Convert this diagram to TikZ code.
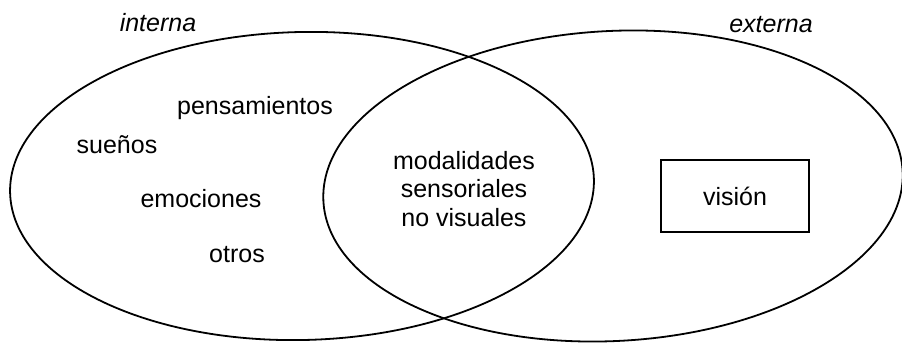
\documentclass[tikz,border=0pt]{standalone}
\usepackage{fontspec}
\setmainfont{Liberation Sans}
\begin{document}
\begin{tikzpicture}[x=1pt,y=-1pt,
  lbl/.style={inner sep=0pt, font=\fontsize{25}{28.5}\selectfont, anchor=base},
  ring/.style={draw=black, line width=1.8pt},
  vbox/.style={draw=black, line width=2.2pt, minimum width=148pt, minimum height=72pt, inner sep=0pt, font=\fontsize{25}{28.5}\selectfont}]
\useasboundingbox[fill=white] (0,0) rectangle (902,345);
% the two overlapping ellipses
\draw[ring, rotate around={1.3:(302,186)}] (302,186) ellipse [x radius=292pt, y radius=154pt];
\draw[ring, rotate around={3:(613,186)}] (613,186) ellipse [x radius=290pt, y radius=155pt];
% titles
\node[lbl, font=\fontsize{25}{28.5}\selectfont\itshape] (interna) at (158,32) {interna};
\node[lbl, font=\fontsize{25}{28.5}\selectfont\itshape] (externa) at (771,33) {externa};
% internal items
\node[lbl] (pens) at (255,114) {pensamientos};
\node[lbl] (suen) at (117,153) {sueños};
\node[lbl] (emoc) at (201,207) {emociones};
\node[lbl] (otros) at (237,262) {otros};
% overlap
\node[inner sep=0pt, font=\fontsize{25}{28.5}\selectfont, align=center, anchor=north] (modal) at (464,151) {modalidades\\sensoriales\\no visuales};
% external
\node[vbox] (vision) at (735,196) {visión};
\end{tikzpicture}
\end{document}
